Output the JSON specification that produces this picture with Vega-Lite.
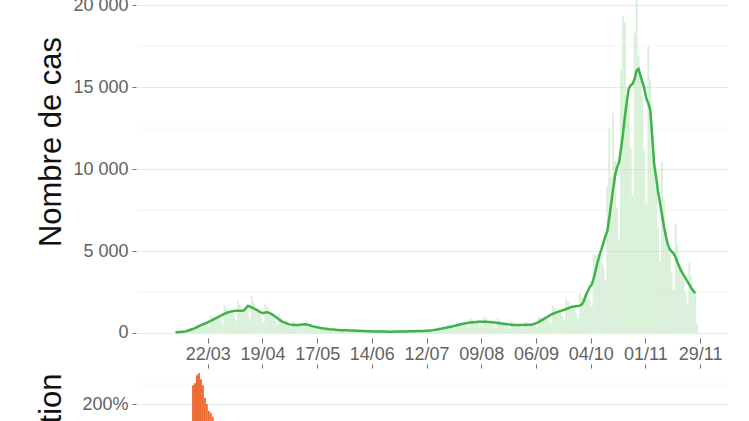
{
"$schema": "https://vega.github.io/schema/vega-lite/v6.json",
"padding": {"left": 34, "top": -4, "right": 5, "bottom": 5},
"background": "white",
"config": {
  "view": {"stroke": null},
  "axis": {"labelFont": "Liberation Sans", "labelFontSize": 18, "labelColor": "#626262", "tickColor": "#6f6f6f", "domain": false, "gridColor": "#e9e9e9", "titleFont": "Liberation Sans", "titleFontWeight": "normal", "titleColor": "#111111", "titleFontSize": 31}
},
"data": {"values": [
{"date":"2020-03-01","cas":2},{"date":"2020-03-02","cas":5},{"date":"2020-03-03","cas":10},{"date":"2020-03-04","cas":20},
{"date":"2020-03-05","cas":40,"moy":40},{"date":"2020-03-06","cas":48,"moy":50},{"date":"2020-03-07","cas":45,"moy":60},{"date":"2020-03-08","cas":39,"moy":70},
{"date":"2020-03-09","cas":116,"moy":80},{"date":"2020-03-10","cas":125,"moy":100},{"date":"2020-03-11","cas":137,"moy":130},{"date":"2020-03-12","cas":170,"moy":170},
{"date":"2020-03-13","cas":200,"moy":210},{"date":"2020-03-14","cas":188,"moy":250,"var":247},{"date":"2020-03-15","cas":165,"moy":300,"var":252},
{"date":"2020-03-16","cas":522,"moy":360,"var":272},{"date":"2020-03-17","cas":525,"moy":420,"var":277},{"date":"2020-03-18","cas":504,"moy":480,"var":262},
{"date":"2020-03-19","cas":530,"moy":530,"var":247},{"date":"2020-03-20","cas":551,"moy":580,"var":215},{"date":"2020-03-21","cas":465,"moy":620,"var":200},
{"date":"2020-03-22","cas":374,"moy":680,"var":183},{"date":"2020-03-23","cas":1073,"moy":740,"var":178},{"date":"2020-03-24","cas":1000,"moy":800,"var":168},
{"date":"2020-03-25","cas":903,"moy":860,"var":150},{"date":"2020-03-26","cas":920,"moy":920,"var":130},{"date":"2020-03-27","cas":931,"moy":980,"var":112},
{"date":"2020-03-28","cas":780,"moy":1040,"var":96},{"date":"2020-03-29","cas":605,"moy":1100,"var":84},{"date":"2020-03-30","cas":1682,"moy":1160,"var":74},
{"date":"2020-03-31","cas":1525,"moy":1220,"var":65},{"date":"2020-04-01","cas":1323,"moy":1260,"var":58},{"date":"2020-04-02","cas":1300,"moy":1300,"var":51},
{"date":"2020-04-03","cas":1254,"moy":1320,"var":43},{"date":"2020-04-04","cas":1005,"moy":1340,"var":37},{"date":"2020-04-05","cas":743,"moy":1350,"var":30},
{"date":"2020-04-06","cas":1972,"moy":1360,"var":24},{"date":"2020-04-07","cas":1700,"moy":1360,"var":17},{"date":"2020-04-08","cas":1428,"moy":1360,"var":11},
{"date":"2020-04-09","cas":1380,"moy":1380,"var":10},{"date":"2020-04-10","cas":1425,"moy":1500,"var":15},{"date":"2020-04-11","cas":1238,"moy":1650,"var":25},
{"date":"2020-04-12","cas":891,"moy":1620,"var":21},{"date":"2020-04-13","cas":2262,"moy":1560,"var":16},{"date":"2020-04-14","cas":1875,"moy":1500,"var":10},
{"date":"2020-04-15","cas":1512,"moy":1440,"var":6},{"date":"2020-04-16","cas":1380,"moy":1380,"var":1},{"date":"2020-04-17","cas":1235,"moy":1300,"var":-6},
{"date":"2020-04-18","cas":923,"moy":1230,"var":-18},{"date":"2020-04-19","cas":671,"moy":1220,"var":-26},{"date":"2020-04-20","cas":1813,"moy":1250,"var":-23},
{"date":"2020-04-21","cas":1575,"moy":1260,"var":-16},{"date":"2020-04-22","cas":1292,"moy":1230,"var":-15},{"date":"2020-04-23","cas":1170,"moy":1170,"var":-15},
{"date":"2020-04-24","cas":1036,"moy":1090,"var":-16},{"date":"2020-04-25","cas":750,"moy":1000,"var":-19},{"date":"2020-04-26","cas":501,"moy":910,"var":-25},
{"date":"2020-04-27","cas":1189,"moy":820,"var":-34},{"date":"2020-04-28","cas":925,"moy":740,"var":-41},{"date":"2020-04-29","cas":714,"moy":680,"var":-45},
{"date":"2020-04-30","cas":630,"moy":630,"var":-46},{"date":"2020-05-01","cas":551,"moy":580,"var":-47},{"date":"2020-05-02","cas":405,"moy":540,"var":-46},
{"date":"2020-05-03","cas":281,"moy":510,"var":-44},{"date":"2020-05-04","cas":718,"moy":495,"var":-40},{"date":"2020-05-05","cas":613,"moy":490,"var":-34},
{"date":"2020-05-06","cas":515,"moy":490,"var":-28},{"date":"2020-05-07","cas":495,"moy":495,"var":-21},{"date":"2020-05-08","cas":485,"moy":510,"var":-12},
{"date":"2020-05-09","cas":394,"moy":525,"var":-3},{"date":"2020-05-10","cas":292,"moy":530,"var":4},{"date":"2020-05-11","cas":754,"moy":520,"var":5},
{"date":"2020-05-12","cas":619,"moy":495,"var":1},{"date":"2020-05-13","cas":483,"moy":460,"var":-6},{"date":"2020-05-14","cas":420,"moy":420,"var":-15},
{"date":"2020-05-15","cas":371,"moy":390,"var":-24},{"date":"2020-05-16","cas":270,"moy":360,"var":-31},{"date":"2020-05-17","cas":182,"moy":330,"var":-38},
{"date":"2020-05-18","cas":442,"moy":305,"var":-41},{"date":"2020-05-19","cas":363,"moy":290,"var":-41},{"date":"2020-05-20","cas":289,"moy":275,"var":-40},
{"date":"2020-05-21","cas":260,"moy":260,"var":-38},{"date":"2020-05-22","cas":233,"moy":245,"var":-37},{"date":"2020-05-23","cas":173,"moy":230,"var":-36},
{"date":"2020-05-24","cas":121,"moy":220,"var":-33},{"date":"2020-05-25","cas":305,"moy":210,"var":-31},{"date":"2020-05-26","cas":250,"moy":200,"var":-31},
{"date":"2020-05-27","cas":200,"moy":190,"var":-31},{"date":"2020-05-28","cas":180,"moy":180,"var":-31},{"date":"2020-05-29","cas":166,"moy":175,"var":-29},
{"date":"2020-05-30","cas":128,"moy":170,"var":-26},{"date":"2020-05-31","cas":91,"moy":165,"var":-25},{"date":"2020-06-01","cas":232,"moy":160,"var":-24},
{"date":"2020-06-02","cas":194,"moy":155,"var":-23},{"date":"2020-06-03","cas":158,"moy":150,"var":-21},{"date":"2020-06-04","cas":145,"moy":145,"var":-19},
{"date":"2020-06-05","cas":133,"moy":140,"var":-20},{"date":"2020-06-06","cas":101,"moy":135,"var":-21},{"date":"2020-06-07","cas":72,"moy":130,"var":-21},
{"date":"2020-06-08","cas":181,"moy":125,"var":-22},{"date":"2020-06-09","cas":150,"moy":120,"var":-23},{"date":"2020-06-10","cas":121,"moy":115,"var":-23},
{"date":"2020-06-11","cas":110,"moy":110,"var":-24},{"date":"2020-06-12","cas":100,"moy":105,"var":-25},{"date":"2020-06-13","cas":75,"moy":100,"var":-26},
{"date":"2020-06-14","cas":52,"moy":95,"var":-27},{"date":"2020-06-15","cas":133,"moy":92,"var":-26},{"date":"2020-06-16","cas":113,"moy":90,"var":-25},
{"date":"2020-06-17","cas":92,"moy":88,"var":-23},{"date":"2020-06-18","cas":86,"moy":86,"var":-22},{"date":"2020-06-19","cas":81,"moy":85,"var":-19},
{"date":"2020-06-20","cas":63,"moy":84,"var":-16},{"date":"2020-06-21","cas":46,"moy":83,"var":-13},{"date":"2020-06-22","cas":119,"moy":82,"var":-11},
{"date":"2020-06-23","cas":103,"moy":82,"var":-9},{"date":"2020-06-24","cas":87,"moy":83,"var":-6},{"date":"2020-06-25","cas":84,"moy":84,"var":-2},
{"date":"2020-06-26","cas":82,"moy":86,"var":1},{"date":"2020-06-27","cas":66,"moy":88,"var":5},{"date":"2020-06-28","cas":50,"moy":90,"var":8},
{"date":"2020-06-29","cas":133,"moy":92,"var":12},{"date":"2020-06-30","cas":119,"moy":95,"var":16},{"date":"2020-07-01","cas":103,"moy":98,"var":18},
{"date":"2020-07-02","cas":100,"moy":100,"var":19},{"date":"2020-07-03","cas":98,"moy":103,"var":20},{"date":"2020-07-04","cas":80,"moy":106,"var":20},
{"date":"2020-07-05","cas":60,"moy":109,"var":21},{"date":"2020-07-06","cas":162,"moy":112,"var":22},{"date":"2020-07-07","cas":144,"moy":115,"var":21},
{"date":"2020-07-08","cas":124,"moy":118,"var":20},{"date":"2020-07-09","cas":122,"moy":122,"var":22},{"date":"2020-07-10","cas":119,"moy":125,"var":21},
{"date":"2020-07-11","cas":98,"moy":130,"var":23},{"date":"2020-07-12","cas":77,"moy":140,"var":28},{"date":"2020-07-13","cas":218,"moy":150,"var":34},
{"date":"2020-07-14","cas":200,"moy":160,"var":39},{"date":"2020-07-15","cas":184,"moy":175,"var":48},{"date":"2020-07-16","cas":195,"moy":195,"var":60},
{"date":"2020-07-17","cas":204,"moy":215,"var":72},{"date":"2020-07-18","cas":180,"moy":240,"var":85},{"date":"2020-07-19","cas":146,"moy":265,"var":89},
{"date":"2020-07-20","cas":413,"moy":285,"var":90},{"date":"2020-07-21","cas":388,"moy":310,"var":94},{"date":"2020-07-22","cas":352,"moy":335,"var":91},
{"date":"2020-07-23","cas":360,"moy":360,"var":85},{"date":"2020-07-24","cas":366,"moy":385,"var":79},{"date":"2020-07-25","cas":308,"moy":410,"var":71},
{"date":"2020-07-26","cas":242,"moy":440,"var":66},{"date":"2020-07-27","cas":682,"moy":470,"var":65},{"date":"2020-07-28","cas":625,"moy":500,"var":61},
{"date":"2020-07-29","cas":557,"moy":530,"var":58},{"date":"2020-07-30","cas":555,"moy":555,"var":54},{"date":"2020-07-31","cas":551,"moy":580,"var":51},
{"date":"2020-08-01","cas":450,"moy":600,"var":46},{"date":"2020-08-02","cas":341,"moy":620,"var":41},{"date":"2020-08-03","cas":921,"moy":635,"var":35},
{"date":"2020-08-04","cas":813,"moy":650,"var":30},{"date":"2020-08-05","cas":693,"moy":660,"var":25},{"date":"2020-08-06","cas":670,"moy":670,"var":21},
{"date":"2020-08-07","cas":646,"moy":680,"var":17},{"date":"2020-08-08","cas":514,"moy":685,"var":14},{"date":"2020-08-09","cas":380,"moy":690,"var":11},
{"date":"2020-08-10","cas":1001,"moy":690,"var":9},{"date":"2020-08-11","cas":856,"moy":685,"var":5},{"date":"2020-08-12","cas":709,"moy":675,"var":2},
{"date":"2020-08-13","cas":665,"moy":665,"var":-1},{"date":"2020-08-14","cas":618,"moy":650,"var":-4},{"date":"2020-08-15","cas":476,"moy":635,"var":-7},
{"date":"2020-08-16","cas":341,"moy":620,"var":-10},{"date":"2020-08-17","cas":877,"moy":605,"var":-12},{"date":"2020-08-18","cas":738,"moy":590,"var":-14},
{"date":"2020-08-19","cas":604,"moy":575,"var":-15},{"date":"2020-08-20","cas":560,"moy":560,"var":-16},{"date":"2020-08-21","cas":518,"moy":545,"var":-16},
{"date":"2020-08-22","cas":398,"moy":530,"var":-17},{"date":"2020-08-23","cas":283,"moy":515,"var":-17},{"date":"2020-08-24","cas":732,"moy":505,"var":-17},
{"date":"2020-08-25","cas":619,"moy":495,"var":-16},{"date":"2020-08-26","cas":515,"moy":490,"var":-15},{"date":"2020-08-27","cas":488,"moy":488,"var":-13},
{"date":"2020-08-28","cas":463,"moy":487,"var":-11},{"date":"2020-08-29","cas":366,"moy":488,"var":-8},{"date":"2020-08-30","cas":270,"moy":490,"var":-5},
{"date":"2020-08-31","cas":715,"moy":493,"var":-2},{"date":"2020-09-01","cas":621,"moy":497,"var":0},{"date":"2020-09-02","cas":528,"moy":503,"var":3},
{"date":"2020-09-03","cas":510,"moy":510,"var":5},{"date":"2020-09-04","cas":504,"moy":530,"var":9},{"date":"2020-09-05","cas":420,"moy":560,"var":15},
{"date":"2020-09-06","cas":336,"moy":610,"var":24},{"date":"2020-09-07","cas":986,"moy":680,"var":38},{"date":"2020-09-08","cas":938,"moy":750,"var":51},
{"date":"2020-09-09","cas":861,"moy":820,"var":63},{"date":"2020-09-10","cas":890,"moy":890,"var":75},{"date":"2020-09-11","cas":912,"moy":960,"var":81},
{"date":"2020-09-12","cas":773,"moy":1030,"var":84},{"date":"2020-09-13","cas":605,"moy":1100,"var":80},{"date":"2020-09-14","cas":1682,"moy":1160,"var":71},
{"date":"2020-09-15","cas":1513,"moy":1210,"var":61},{"date":"2020-09-16","cas":1323,"moy":1260,"var":54},{"date":"2020-09-17","cas":1300,"moy":1300,"var":46},
{"date":"2020-09-18","cas":1273,"moy":1340,"var":40},{"date":"2020-09-19","cas":1035,"moy":1380,"var":34},{"date":"2020-09-20","cas":781,"moy":1420,"var":29},
{"date":"2020-09-21","cas":2117,"moy":1460,"var":26},{"date":"2020-09-22","cas":1888,"moy":1510,"var":25},{"date":"2020-09-23","cas":1638,"moy":1560,"var":24},
{"date":"2020-09-24","cas":1600,"moy":1600,"var":23},{"date":"2020-09-25","cas":1539,"moy":1620,"var":21},{"date":"2020-09-26","cas":1226,"moy":1635,"var":18},
{"date":"2020-09-27","cas":908,"moy":1650,"var":16},{"date":"2020-09-28","cas":2422,"moy":1670,"var":14},{"date":"2020-09-29","cas":2188,"moy":1750,"var":16},
{"date":"2020-09-30","cas":2048,"moy":1950,"var":25},{"date":"2020-10-01","cas":2300,"moy":2300,"var":44},{"date":"2020-10-02","cas":2423,"moy":2550,"var":57},
{"date":"2020-10-03","cas":2100,"moy":2800,"var":71},{"date":"2020-10-04","cas":1623,"moy":2950,"var":79},{"date":"2020-10-05","cas":4785,"moy":3300,"var":98},
{"date":"2020-10-06","cas":4750,"moy":3800,"var":117},{"date":"2020-10-07","cas":4515,"moy":4300,"var":121},{"date":"2020-10-08","cas":4750,"moy":4750,"var":107},
{"date":"2020-10-09","cas":4845,"moy":5100,"var":100},{"date":"2020-10-10","cas":4125,"moy":5500,"var":96},{"date":"2020-10-11","cas":3245,"moy":5900,"var":100},
{"date":"2020-10-12","cas":9000,"moy":6200,"var":88},{"date":"2020-10-13","cas":12500,"moy":7000,"var":84},{"date":"2020-10-14","cas":9500,"moy":7900,"var":84},
{"date":"2020-10-15","cas":13400,"moy":8800,"var":85},{"date":"2020-10-16","cas":10500,"moy":9600,"var":88},{"date":"2020-10-17","cas":7600,"moy":10100,"var":84},
{"date":"2020-10-18","cas":5700,"moy":10400,"var":76},{"date":"2020-10-19","cas":16000,"moy":11200,"var":81},{"date":"2020-10-20","cas":19300,"moy":12100,"var":73},
{"date":"2020-10-21","cas":19000,"moy":13200,"var":67},{"date":"2020-10-22","cas":14100,"moy":14100,"var":60},{"date":"2020-10-23","cas":14000,"moy":14900,"var":55},
{"date":"2020-10-24","cas":11300,"moy":15100,"var":50},{"date":"2020-10-25","cas":8400,"moy":15200,"var":46},{"date":"2020-10-26","cas":18300,"moy":15500,"var":38},
{"date":"2020-10-27","cas":20500,"moy":16000,"var":32},{"date":"2020-10-28","cas":16900,"moy":16100,"var":22},{"date":"2020-10-29","cas":15700,"moy":15700,"var":11},
{"date":"2020-10-30","cas":14500,"moy":15300,"var":3},{"date":"2020-10-31","cas":11200,"moy":14900,"var":-1},{"date":"2020-11-01","cas":7900,"moy":14300,"var":-6},
{"date":"2020-11-02","cas":17500,"moy":14000,"var":-10},{"date":"2020-11-03","cas":15500,"moy":13600,"var":-15},{"date":"2020-11-04","cas":12600,"moy":12000,"var":-25},
{"date":"2020-11-05","cas":10300,"moy":10300,"var":-34},{"date":"2020-11-06","cas":9000,"moy":9500,"var":-38},{"date":"2020-11-07","cas":6450,"moy":8600,"var":-42},
{"date":"2020-11-08","cas":4370,"moy":7950,"var":-44},{"date":"2020-11-09","cas":10440,"moy":7200,"var":-49},{"date":"2020-11-10","cas":8125,"moy":6500,"var":-52},
{"date":"2020-11-11","cas":6195,"moy":5900,"var":-51},{"date":"2020-11-12","cas":5400,"moy":5400,"var":-48},{"date":"2020-11-13","cas":4845,"moy":5100,"var":-46},
{"date":"2020-11-14","cas":3713,"moy":4950,"var":-42},{"date":"2020-11-15","cas":2668,"moy":4850,"var":-39},{"date":"2020-11-16","cas":6670,"moy":4600,"var":-36},
{"date":"2020-11-17","cas":5375,"moy":4300,"var":-34},{"date":"2020-11-18","cas":4200,"moy":4000,"var":-32},{"date":"2020-11-19","cas":3750,"moy":3750,"var":-31},
{"date":"2020-11-20","cas":3373,"moy":3550,"var":-30},{"date":"2020-11-21","cas":2513,"moy":3350,"var":-32},{"date":"2020-11-22","cas":1733,"moy":3150,"var":-35},
{"date":"2020-11-23","cas":4278,"moy":2950,"var":-36},{"date":"2020-11-24","cas":3438,"moy":2750,"var":-36},{"date":"2020-11-25","cas":2709,"moy":2580,"var":-36},
{"date":"2020-11-26","cas":2420,"moy":2420,"var":-35},{"date":"2020-11-27","cas":600}
]},
"vconcat": [
  {
    "width": 591,
    "height": 338,
    "layer": [
      {
        "data": {"values": [{"g": 2500}, {"g": 7500}, {"g": 12500}, {"g": 17500}]},
        "mark": {"type": "rule", "color": "#f4f4f4", "strokeWidth": 1},
        "encoding": {"y": {"field": "g", "type": "quantitative", "title": "Nombre de cas"}}
      },
      {
        "mark": {"type": "bar", "color": "#b4e2b4", "opacity": 0.55, "width": 1.75},
        "encoding": {
          "x": {"field": "date", "timeUnit": "utcyearmonthdate", "type": "temporal",
            "scale": {"type": "utc", "domain": [{"year": 2020, "month": 2, "date": 14, "hours": 19, "utc": true}, {"year": 2020, "month": 12, "date": 13, "hours": 7, "utc": true}]},
            "axis": {"title": null, "grid": false, "format": "%d/%m", "labelFlush": false, "labelOverlap": false, "tickSize": 5, "labelPadding": 2,
              "values": [{"year": 2020, "month": 3, "date": 22, "utc": true}, {"year": 2020, "month": 4, "date": 19, "utc": true}, {"year": 2020, "month": 5, "date": 17, "utc": true}, {"year": 2020, "month": 6, "date": 14, "utc": true}, {"year": 2020, "month": 7, "date": 12, "utc": true}, {"year": 2020, "month": 8, "date": 9, "utc": true}, {"year": 2020, "month": 9, "date": 6, "utc": true}, {"year": 2020, "month": 10, "date": 4, "utc": true}, {"year": 2020, "month": 11, "date": 1, "utc": true}, {"year": 2020, "month": 11, "date": 29, "utc": true}]}},
          "y": {"field": "cas", "type": "quantitative", "title": "Nombre de cas",
            "scale": {"domain": [-305, 20306], "nice": false, "zero": false},
            "axis": {"values": [0, 5000, 10000, 15000, 20000], "labelExpr": "replace(format(datum.value, ','), ',', ' ')", "titleX": -76, "titleY": 141.5, "titleBaseline": "alphabetic", "offset": 1, "tickSize": 4, "labelPadding": 4, "grid": true}},
          "y2": {"datum": 0}
        }
      },
      {
        "transform": [{"filter": "isValid(datum.moy)"}],
        "mark": {"type": "line", "color": "#3cb44a", "strokeWidth": 2.5},
        "encoding": {
          "x": {"field": "date", "timeUnit": "utcyearmonthdate", "type": "temporal", "bandPosition": 0.5},
          "y": {"field": "moy", "type": "quantitative", "title": "Nombre de cas"}
        }
      }
    ]
  },
  {
    "width": 591,
    "height": 142,
    "layer": [
      {
        "data": {"values": [{"g": -50}, {"g": 50}, {"g": 150}, {"g": 250}]},
        "mark": {"type": "rule", "color": "#f4f4f4", "strokeWidth": 1},
        "encoding": {"y": {"field": "g", "type": "quantitative", "title": "Variation"}}
      },
      {
        "transform": [{"filter": "isValid(datum.var)"}],
        "mark": {"type": "bar", "color": "#ee6a33", "width": 2},
        "encoding": {
          "x": {"field": "date", "timeUnit": "utcyearmonthdate", "type": "temporal",
            "scale": {"type": "utc", "domain": [{"year": 2020, "month": 2, "date": 14, "hours": 19, "utc": true}, {"year": 2020, "month": 12, "date": 13, "hours": 7, "utc": true}]},
            "axis": {"orient": "top", "title": null, "grid": false, "labels": false, "tickSize": 4,
              "values": [{"year": 2020, "month": 3, "date": 22, "utc": true}, {"year": 2020, "month": 4, "date": 19, "utc": true}, {"year": 2020, "month": 5, "date": 17, "utc": true}, {"year": 2020, "month": 6, "date": 14, "utc": true}, {"year": 2020, "month": 7, "date": 12, "utc": true}, {"year": 2020, "month": 8, "date": 9, "utc": true}, {"year": 2020, "month": 9, "date": 6, "utc": true}, {"year": 2020, "month": 10, "date": 4, "utc": true}, {"year": 2020, "month": 11, "date": 1, "utc": true}, {"year": 2020, "month": 11, "date": 29, "utc": true}]}},
          "y": {"field": "var", "type": "quantitative", "title": "Variation",
            "scale": {"domain": [-65, 290], "nice": false, "zero": false},
            "axis": {"values": [0, 100, 200], "labelExpr": "datum.value + '%'", "titleX": -76, "titleY": 65, "titleBaseline": "alphabetic", "offset": 1, "tickSize": 4, "labelPadding": 4, "grid": true}},
          "y2": {"datum": 0}
        }
      }
    ]
  }
],
"spacing": 30,
"bounds": "flush"
}
